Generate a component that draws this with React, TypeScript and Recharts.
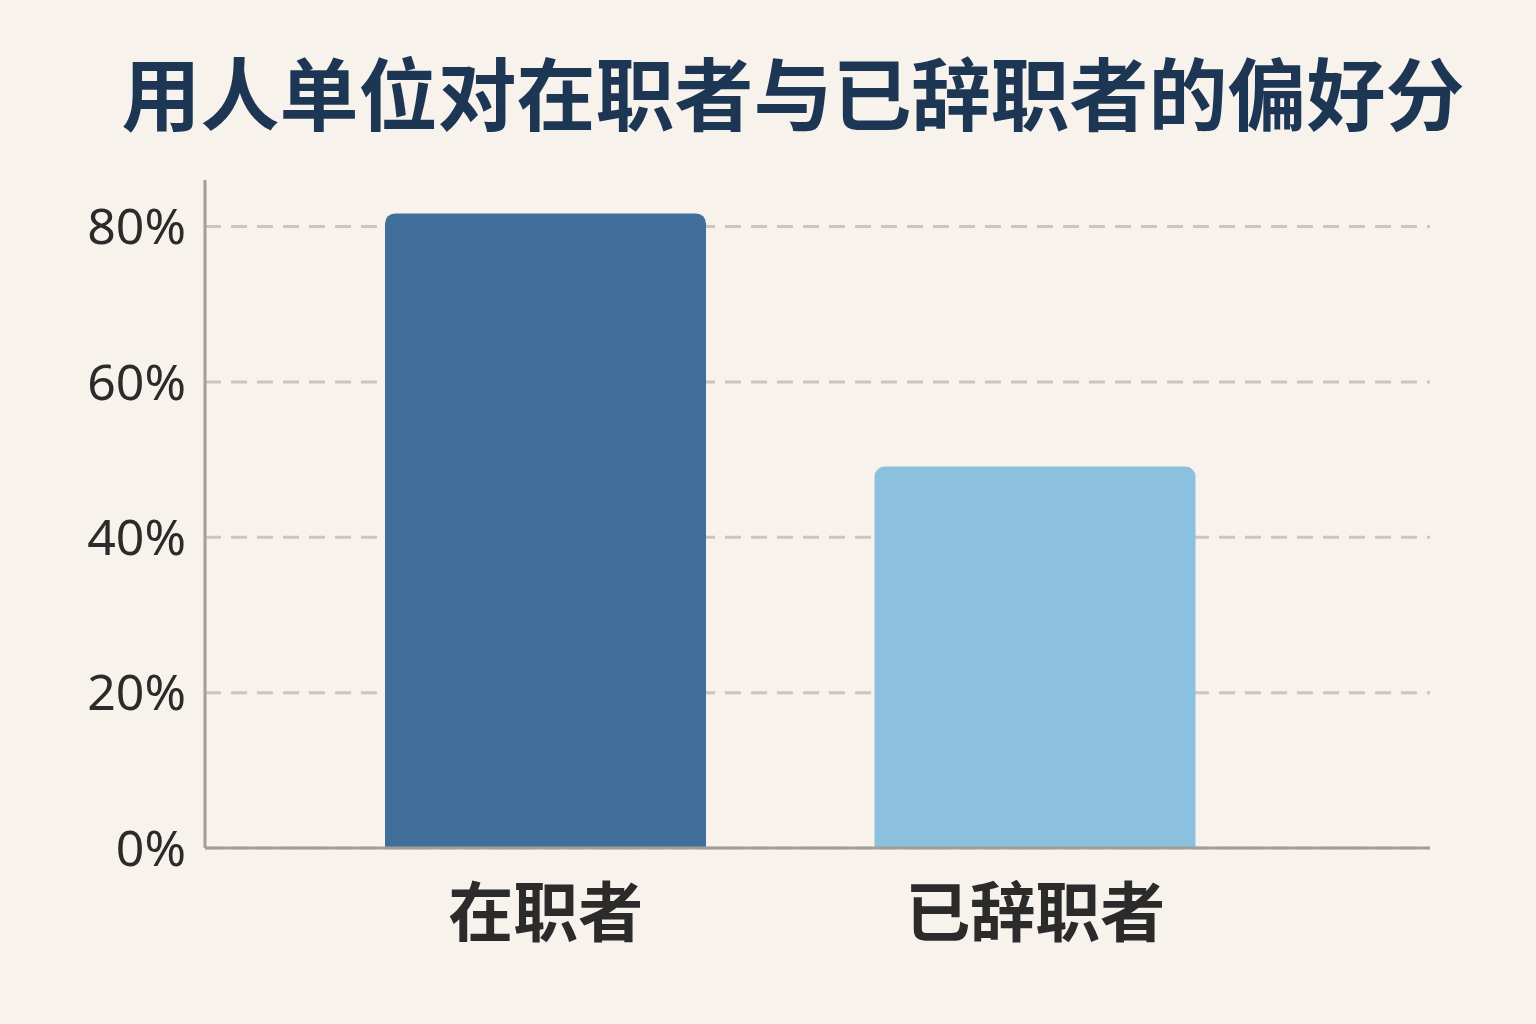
import { Bar, BarChart, CartesianGrid, Cell, XAxis, YAxis } from "recharts";

const TITLE = "用人单位对在职者与已辞职者的偏好分";
const CATEGORIES = ["在职者", "已辞职者"];
const VALUES = [81.7, 49.1];
const COLORS = ["#416f9b", "#8bc0df"];
const Y_TICKS = [0, 20, 40, 60, 80];

const BG = "#f7f2eb";
const AXIS = "#a29d96";
const TEXT = "#2b2b2b";

export default function App() {
  const data = CATEGORIES.map((name, i) => ({ name, value: VALUES[i] }));

  return (
    <div
      style={{
        position: "fixed",
        top: 0,
        left: 0,
        width: 1536,
        height: 1024,
        background: BG,
        fontFamily: "'Noto Sans', 'Noto Sans CJK SC', sans-serif",
      }}
    >
      <div
        style={{
          position: "absolute",
          top: 45,
          left: 0,
          width: 1536,
          paddingLeft: 50,
          boxSizing: "border-box",
          textAlign: "center",
          whiteSpace: "nowrap",
          fontFamily: "'Noto Sans CJK SC', sans-serif",
          fontWeight: 700,
          fontSize: 79,
          lineHeight: "92px",
          color: "#1d3654",
        }}
      >
        {TITLE}
      </div>
      <BarChart
        width={1536}
        height={1024}
        data={data}
        margin={{ top: 180, right: 106, bottom: 0, left: 0 }}
      >
        <CartesianGrid
          horizontal
          vertical={false}
          horizontalValues={Y_TICKS}
          stroke="#cbc5be"
          strokeWidth={3}
          strokeDasharray="16 10"
        />
        <XAxis
          dataKey="name"
          height={176}
          padding={{ left: 96, right: 150 }}
          axisLine={{ stroke: AXIS, strokeWidth: 3 }}
          tickLine={false}
          tickSize={0}
          tickMargin={42}
          tick={{
            fill: TEXT,
            fontSize: 65,
            fontWeight: 700,
            fontFamily: "'Noto Sans CJK SC', sans-serif",
          }}
        />
        <YAxis
          width={205}
          domain={[0, 86]}
          ticks={Y_TICKS}
          interval={0}
          tickFormatter={(v: number) => `${v}%`}
          axisLine={{ stroke: AXIS, strokeWidth: 3 }}
          tickLine={false}
          tickSize={0}
          tickMargin={19}
          tick={{
            fill: TEXT,
            fontSize: 50,
            fontFamily: "'Noto Sans', sans-serif",
          }}
        />
        <Bar
          dataKey="value"
          barSize={321}
          radius={[10, 10, 0, 0]}
          isAnimationActive={false}
        >
          {data.map((d, i) => (
            <Cell key={d.name} fill={COLORS[i]} />
          ))}
        </Bar>
      </BarChart>
    </div>
  );
}
